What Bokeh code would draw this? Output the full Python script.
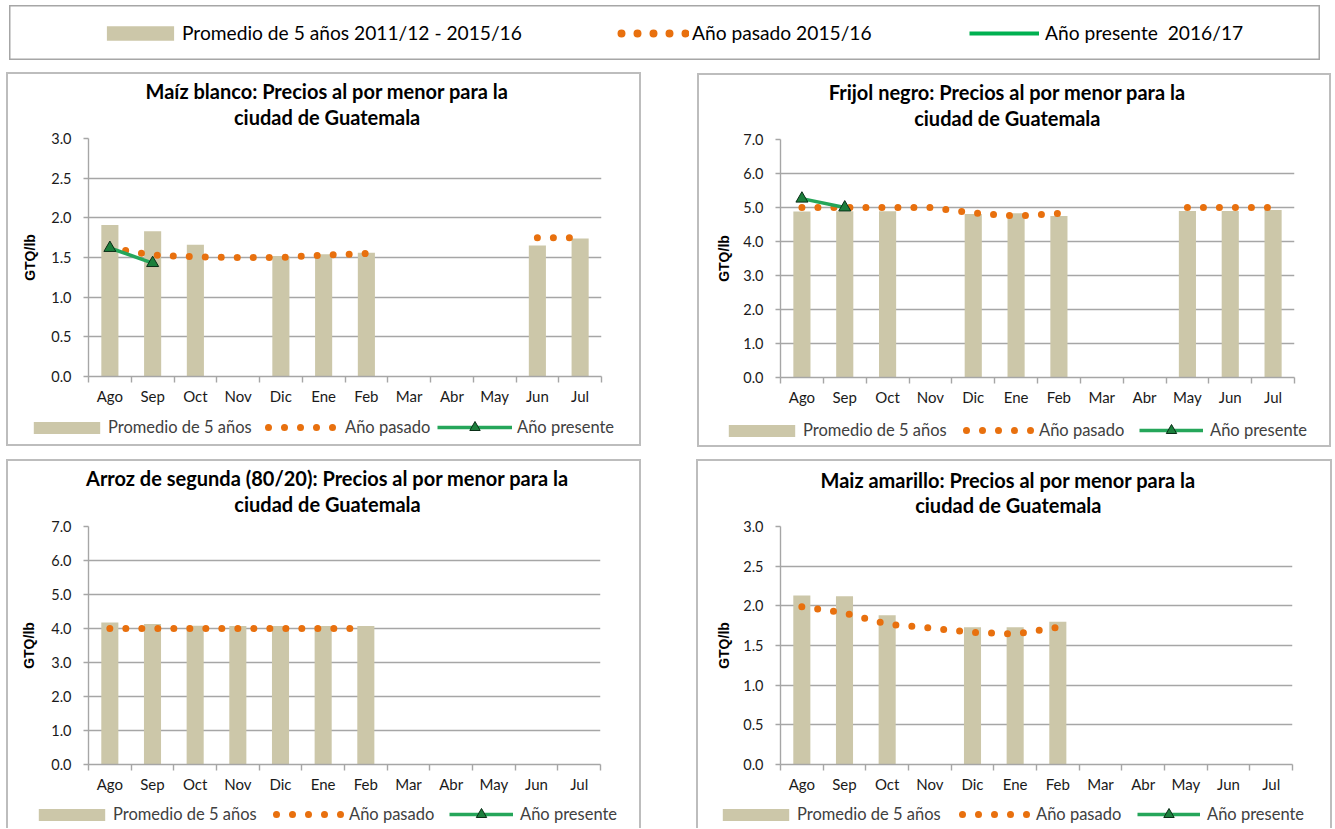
from bokeh.plotting import figure
from bokeh.models import (Legend, LegendItem, FixedTicker, Range1d, Label,
                          PrintfTickFormatter)
from bokeh.layouts import column, row
from bokeh.embed import file_html
from bokeh.resources import INLINE

# ---------------- data ----------------
months = ["Ago", "Sep", "Oct", "Nov", "Dic", "Ene", "Feb", "Mar", "Abr", "May", "Jun", "Jul"]

maiz_blanco_prom = [1.91, 1.83, 1.66, None, 1.52, 1.54, 1.56, None, None, None, 1.65, 1.74]
maiz_blanco_pasado = [1.62, 1.53, 1.51, 1.50, 1.50, 1.53, 1.55, None, None, None, 1.75, 1.75]
maiz_blanco_presente = [1.62, 1.43, None, None, None, None, None, None, None, None, None, None]

frijol_prom = [4.88, 4.89, 4.89, None, 4.81, 4.83, 4.75, None, None, 4.90, 4.90, 4.93]
frijol_pasado = [5.00, 5.00, 5.00, 5.00, 4.84, 4.75, 4.83, None, None, 5.00, 5.00, 5.00]
frijol_presente = [5.26, 5.00, None, None, None, None, None, None, None, None, None, None]

arroz_prom = [4.18, 4.13, 4.08, 4.07, 4.07, 4.07, 4.07, None, None, None, None, None]
arroz_pasado = [4.00, 4.00, 4.00, 4.00, 4.00, 4.00, 4.00, None, None, None, None, None]
arroz_presente = [None] * 12

amarillo_prom = [2.13, 2.12, 1.88, None, 1.73, 1.73, 1.80, None, None, None, None, None]
amarillo_pasado = [1.99, 1.91, 1.77, 1.72, 1.665, 1.645, 1.73, None, None, None, None, None]
amarillo_presente = [None] * 12

titles = [
    ("Maíz blanco: Precios al por menor para la", "ciudad de Guatemala"),
    ("Frijol negro: Precios al por menor para la", "ciudad de Guatemala"),
    ("Arroz de segunda (80/20): Precios al por menor para la", "ciudad de Guatemala"),
    ("Maiz amarillo: Precios al por menor para la", "ciudad de Guatemala"),
]
legend_labels_top = ["Promedio de 5 años 2011/12 - 2015/16", "Año pasado 2015/16", "Año presente  2016/17"]
legend_labels = ["Promedio de 5 años", "Año pasado", "Año presente"]
y_label = "GTQ/lb"

# ---------------- style ----------------
BAR = "#ccc7a9"
ORANGE = "#e8700e"
GREEN = "#25a65a"
GREEN_TOP = "#00b050"
TRI_FILL = "#1b7f3c"
TRI_LINE = "#0a2e17"
GRID = "#a6a6a6"
BOX = "#bdbdbd"
FONT = "Lato"

SH_TOP = "inset 2px 2px 0 0 %s, inset -2px 0 0 0 %s" % (BOX, BOX)
SH_SIDES = "inset 2px 0 0 0 %s, inset -2px 0 0 0 %s" % (BOX, BOX)
SH_BOTTOM = "inset 2px -2px 0 0 %s, inset -2px 0 0 0 %s" % (BOX, BOX)


def clean(v):
    return [float("nan") if x is None else x for x in v]


def no_align(f):
    try:
        f.frame_align = False
    except Exception:
        pass


def blank_fig(w, h):
    f = figure(width=w, height=h, x_range=Range1d(0, w), y_range=Range1d(0, h),
               output_backend="svg", toolbar_location=None, title=None, min_border=0)
    no_align(f)
    f.axis.visible = False
    f.grid.visible = False
    f.outline_line_color = None
    f.border_fill_color = None
    f.background_fill_color = None
    return f


def one_legend(label, rends, loc, gw, gh, so, size, color):
    return Legend(items=[LegendItem(label=label, renderers=rends)], location=loc,
                  glyph_width=gw, glyph_height=gh, label_standoff=so,
                  padding=0, margin=0, spacing=0, border_line_color=None,
                  background_fill_alpha=0, inactive_fill_alpha=0,
                  label_text_font=FONT, label_text_font_size=size, label_text_color=color)


def panel(tt, prom, pasado, presente, ymax, ystep, w, h_t, h_p, h_l,
          bl, br, tcx, ty1, ty2, ylab_standoff, leg, open_bottom):
    n = len(months)
    xs = [i + 0.5 for i in range(n)]

    # ---- title block ----
    ft = blank_fig(w, h_t)
    ft.styles = {"box-shadow": SH_TOP}
    for txt, ty in ((tt[0], ty1), (tt[1], ty2)):
        ft.add_layout(Label(x=tcx, y=ty, text=txt, text_align="center", text_baseline="middle",
                            text_font=FONT, text_font_style="bold", text_font_size="20px",
                            text_color="black"))

    # ---- plot ----
    p = figure(width=w, height=h_p, x_range=Range1d(0, n), y_range=Range1d(0, ymax),
               output_backend="svg", toolbar_location=None, title=None,
               min_border_left=bl, min_border_right=br, min_border_top=9, min_border_bottom=34)
    no_align(p)
    p.styles = {"box-shadow": SH_SIDES}
    p.outline_line_color = None
    p.background_fill_color = "white"
    p.border_fill_color = None

    yticks = [round(k * ystep, 2) for k in range(int(round(ymax / ystep)) + 1)]
    p.xgrid.visible = False
    p.ygrid.ticker = FixedTicker(ticks=yticks)
    p.ygrid.grid_line_color = GRID
    p.ygrid.grid_line_width = 1.4

    xa = p.xaxis[0]
    xa.ticker = FixedTicker(ticks=xs, minor_ticks=list(range(n + 1)))
    xa.major_label_overrides = {x: m for x, m in zip(xs, months)}
    xa.major_tick_line_color = None
    xa.major_tick_out = 6
    xa.major_tick_in = 0
    xa.minor_tick_out = 6
    xa.minor_tick_in = 0
    xa.minor_tick_line_color = GRID
    xa.minor_tick_line_width = 1.4
    xa.axis_line_color = GRID
    xa.axis_line_width = 1.4
    xa.major_label_standoff = 4
    xa.major_label_text_font = FONT
    xa.major_label_text_font_size = "15px"
    xa.major_label_text_color = "#1a1a1a"

    ya = p.yaxis[0]
    ya.ticker = FixedTicker(ticks=yticks)
    ya.formatter = PrintfTickFormatter(format="%.1f")
    ya.major_tick_out = 5
    ya.major_tick_in = 0
    ya.major_tick_line_color = GRID
    ya.major_tick_line_width = 1.4
    ya.minor_tick_line_color = None
    ya.axis_line_color = GRID
    ya.axis_line_width = 1.4
    ya.major_label_standoff = 12
    ya.major_label_text_font = FONT
    ya.major_label_text_font_size = "14.5px"
    ya.major_label_text_color = "#1a1a1a"
    ya.axis_label = y_label
    ya.axis_label_text_font = "Liberation Sans"
    ya.axis_label_text_font_style = "bold"
    ya.axis_label_text_font_size = "14px"
    ya.axis_label_text_color = "black"
    ya.axis_label_standoff = ylab_standoff

    p.vbar(x=xs, top=clean(prom), width=0.4, fill_color=BAR, line_color=None)
    p.line(xs, clean(pasado), line_color=ORANGE, line_width=7, line_dash="0 16", line_cap="round")
    p.line(xs, clean(presente), line_color=GREEN, line_width=3.5)
    p.scatter(xs, clean(presente), marker="triangle", size=12,
              fill_color=TRI_FILL, line_color=TRI_LINE, line_width=1)

    # ---- legend block (hidden copies of the series, shown only as legend samples) ----
    fl = blank_fig(w, h_l)
    fl.styles = {"box-shadow": SH_SIDES if open_bottom else SH_BOTTOM}
    lb = fl.vbar(x=xs, top=clean(prom), width=0.4, fill_color=BAR, line_color=None, visible=False)
    lp = fl.line(xs, clean(pasado), line_color=ORANGE, line_width=7, line_dash="0 16",
                 line_dash_offset=12, line_cap="round", visible=False)
    lr = fl.line(xs, clean(presente), line_color=GREEN, line_width=3.5, visible=False)
    lt = fl.scatter(xs, clean(presente), marker="triangle", size=12, fill_color=TRI_FILL,
                    line_color=TRI_LINE, line_width=1, visible=False)
    (sx, dx, dso, lx, lgw, lso, yc) = leg
    fl.add_layout(one_legend(legend_labels[0], [lb], (sx, yc - 10), 83, 15, 0, "16.5px", "#404040"))
    fl.add_layout(one_legend(legend_labels[1], [lp], (dx, yc - 10), 72, 20, dso, "16.5px", "#404040"))
    fl.add_layout(one_legend(legend_labels[2], [lr, lt], (lx, yc - 13), lgw, 26, lso, "16.5px", "#404040"))

    return column(ft, p, fl)


P1 = panel(titles[0], maiz_blanco_prom, maiz_blanco_pasado, maiz_blanco_presente, 3.0, 0.5,
           635, 57, 281, 36, 82, 40, 320.6, 39, 12.3, 10,
           (19, 258, 9, 431, 75, 5, 19), False)
P2 = panel(titles[1], frijol_prom, frijol_pasado, frijol_presente, 7.0, 1.0,
           634, 57, 281, 36, 83, 37, 309.8, 38.3, 12.3, 8,
           (23, 265, 5, 442, 64, 7, 17), False)
P3 = panel(titles[2], arroz_prom, arroz_pasado, arroz_presente, 7.0, 1.0,
           635, 58, 281, 30, 82, 41, 321, 39.3, 14, 11,
           (24, 266, 5, 443, 64, 7, 14), True)
P4 = panel(titles[3], amarillo_prom, amarillo_pasado, amarillo_presente, 3.0, 0.5,
           636, 58, 281, 30, 84, 40, 311.8, 38, 12.7, 8,
           (18, 262, 6, 441, 63, 7, 14), True)
P1.margin = (12, 0, 0, 6)
P2.margin = (13, 0, 0, 56)
P3.margin = (12, 0, 0, 6)
P4.margin = (12, 0, 0, 55)

# ---------------- top legend ----------------
xs0 = [i + 0.5 for i in range(len(months))]
p0 = blank_fig(1311, 55)
p0.margin = (5, 0, 0, 9)
p0.outline_line_color = "#a6a6a6"
p0.outline_line_width = 2
r0_bar = p0.vbar(x=xs0, top=clean(maiz_blanco_prom), width=0.4, fill_color=BAR,
                 line_color=None, visible=False)
r0_pas = p0.line(xs0, clean(maiz_blanco_pasado), line_color=ORANGE, line_width=8,
                 line_dash="0 16", line_dash_offset=12, line_cap="round", visible=False)
r0_pre = p0.line(xs0, clean(maiz_blanco_presente), line_color=GREEN_TOP, line_width=4,
                 visible=False)
p0.add_layout(one_legend(legend_labels_top[0], [r0_bar], (89, 16), 84, 18, 0, "19.2px", "black"))
p0.add_layout(one_legend(legend_labels_top[1], [r0_pas], (608, 16), 72, 22, 3, "19.2px", "black"))
p0.add_layout(one_legend(legend_labels_top[2], [r0_pre], (960, 16), 70, 22, 6, "19.2px", "black"))

layout = column(p0, row(P1, P2), row(P3, P4))

open("out.html", "w").write(file_html(layout, INLINE))
